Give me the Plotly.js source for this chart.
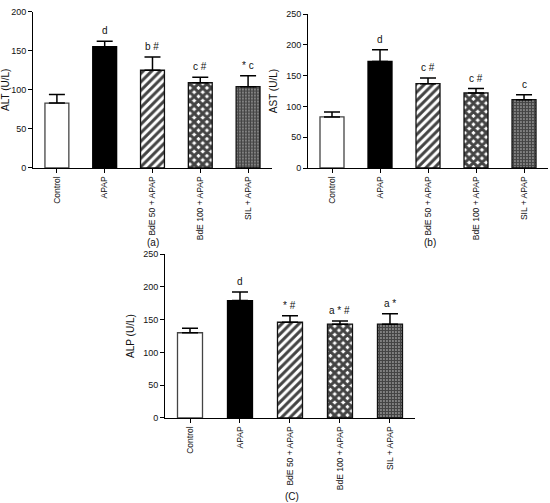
<!DOCTYPE html>
<html>
<head>
<meta charset="utf-8">
<script src="https://cdn.plot.ly/plotly-3.0.1.min.js"></script>
<style>html,body{margin:0;padding:0;background:#fff;}#chart{width:550px;height:503px;}</style>
</head>
<body>
<div id="chart"></div>
<script>
var categories = ["Control", "APAP", "BdE 50 + APAP", "BdE 100 + APAP", "SIL + APAP"];

var altMean = [83, 155, 125, 109, 104];
var altErr  = [11, 7, 17, 7, 14];
var altSig  = ["", "d", "b #", "c #", "* c"];

var astMean = [83, 173, 137, 122, 111];
var astErr  = [8, 19, 9, 7, 8];
var astSig  = ["", "d", "c #", "c #", "c"];

var alpMean = [130, 179, 146, 143, 143];
var alpErr  = [7, 13, 10, 5, 16];
var alpSig  = ["", "d", "* #", "a * #", "a *"];

var yTitles = ["ALT (U/L)", "AST (U/L)", "ALP (U/L)"];
var panelLabels = ["(a)", "(b)", "(C)"];

var FONT = "Liberation Sans, Arial, sans-serif";

function barTrace(means, errs) {
  return {
    type: "bar",
    x: categories,
    y: means,
    width: 0.5,
    marker: {
      color: ["white", "black", "white", "white", "white"],
      line: {color: ["#444", "black", "#111", "#111", "#111"], width: 1.3},
      pattern: {
        shape: ["", "", "/", "x", "."],
        fgcolor: "black",
        fgopacity: 1,
        bgcolor: ["white", "black", "white", "white", "white"],
        size: [6, 6, 6, 6, 3],
        solidity: [0.3, 0.3, 0.5, 0.75, 0.8],
        fillmode: "overlay"
      }
    },
    error_y: {
      type: "data",
      symmetric: false,
      array: errs,
      arrayminus: errs.map(function () { return 0; }),
      color: "black",
      thickness: 1.5,
      width: 8
    },
    hoverinfo: "none",
    showlegend: false
  };
}

var t1 = barTrace(altMean, altErr); t1.xaxis = "x";  t1.yaxis = "y";
var t2 = barTrace(astMean, astErr); t2.xaxis = "x2"; t2.yaxis = "y2";
var t3 = barTrace(alpMean, alpErr); t3.xaxis = "x3"; t3.yaxis = "y3";
var data = [t1, t2, t3];

function xAxis(domain, anchor) {
  return {
    domain: domain, anchor: anchor,
    type: "category",
    range: [-0.5, 4.5],
    showline: true, linecolor: "black", linewidth: 1,
    ticks: "outside", ticklen: 4, tickcolor: "black", tickwidth: 1,
    tickangle: -90,
    tickfont: {family: FONT, size: 8.5, color: "#111"},
    showgrid: false, zeroline: false, fixedrange: true
  };
}
function yAxis(domain, anchor, max, title) {
  return {
    domain: domain, anchor: anchor,
    range: [0, max],
    dtick: 50,
    showline: true, linecolor: "black", linewidth: 1,
    ticks: "outside", ticklen: 4, tickcolor: "black", tickwidth: 1,
    tickfont: {family: FONT, size: 9, color: "#111"},
    title: {text: title, font: {family: FONT, size: 10, color: "#111"}, standoff: 6},
    showgrid: false, zeroline: false, fixedrange: true
  };
}

var annotations = [];
function addSig(means, errs, sig, xr, yr) {
  for (var i = 0; i < categories.length; i++) {
    if (!sig[i]) continue;
    annotations.push({
      xref: xr, yref: yr,
      x: categories[i], y: means[i] + errs[i],
      text: sig[i], showarrow: false,
      yanchor: "bottom", yshift: 3,
      font: {family: FONT, size: 10, color: "#111"}
    });
  }
}
addSig(altMean, altErr, altSig, "x", "y");
addSig(astMean, astErr, astSig, "x2", "y2");
addSig(alpMean, alpErr, alpSig, "x3", "y3");

var labelPos = [[0.278, 0.517], [0.782, 0.517], [0.531, 0.012]];
panelLabels.forEach(function (t, i) {
  annotations.push({
    xref: "paper", yref: "paper", x: labelPos[i][0], y: labelPos[i][1],
    text: t, showarrow: false, xanchor: "center", yanchor: "middle",
    font: {family: FONT, size: 10, color: "#111"}
  });
});

var layout = {
  width: 550, height: 503,
  margin: {l: 0, r: 0, t: 0, b: 0},
  paper_bgcolor: "white", plot_bgcolor: "white",
  xaxis: xAxis([0.06, 0.4945], "y"),
  yaxis: yAxis([0.666, 0.977], "x", 200, yTitles[0]),
  xaxis2: xAxis([0.56, 0.9964], "y2"),
  yaxis2: yAxis([0.666, 0.972], "x2", 250, yTitles[1]),
  xaxis3: xAxis([0.30, 0.7545], "y3"),
  yaxis3: yAxis([0.169, 0.495], "x3", 250, yTitles[2]),
  annotations: annotations,
  showlegend: false
};

Plotly.newPlot("chart", data, layout, {displayModeBar: false, staticPlot: true});
</script>
</body>
</html>
